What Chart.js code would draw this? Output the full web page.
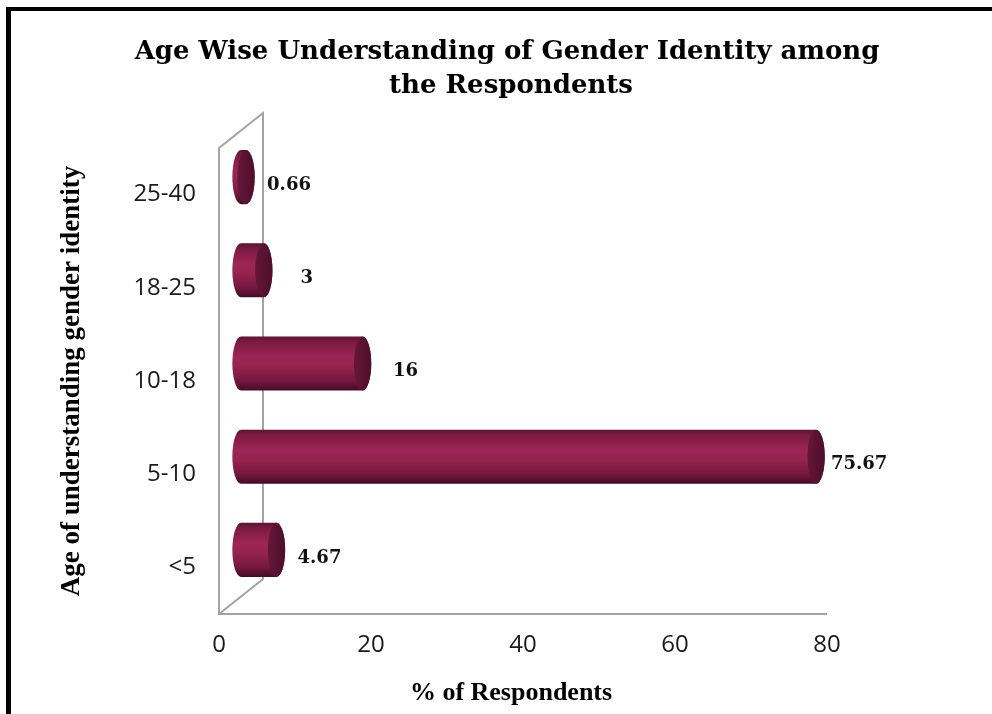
<!DOCTYPE html>
<html>
<head>
<meta charset="utf-8">
<script src="https://cdn.jsdelivr.net/npm/chart.js@4.4.1/dist/chart.umd.min.js"></script>
<style>
  html, body { margin: 0; padding: 0; background: #fff; }
  #chart { display: block; }
</style>
</head>
<body>
<canvas id="chart" width="992" height="714"></canvas>
<script>
// Age groups (bottom to top) and the share of respondents in each
const ageGroups = ['<5', '5-10', '10-18', '18-25', '25-40'];
const respondentShare = [4.67, 75.67, 16, 3, 0.66];
const shareTicks = [0, 20, 40, 60, 80];

const titleLines = ['Age Wise Understanding of Gender Identity among', 'the Respondents'];
const xAxisTitle = '% of Respondents';
const yAxisTitle = 'Age of understanding gender identity';

// Offset of the back plane of the 3-D box (pixels)
const DEPTH = { dx: 44, dy: -35 };

// Outer frame, headings, side wall / floor edge and cylinder bars
const cylinderBars = {
  id: 'cylinderBars',
  beforeDraw(chart) {
    const ctx = chart.ctx;
    ctx.save();
    ctx.fillStyle = '#000';
    ctx.fillRect(6, 7, chart.width - 6, 4);
    ctx.fillRect(6, 7, 5, chart.height - 7);
    ctx.textAlign = 'center';
    ctx.textBaseline = 'alphabetic';
    ctx.font = 'bold 26px "DejaVu Serif"';
    ctx.fillText(titleLines[0], 507, 59);
    ctx.fillText(titleLines[1], 511, 93);
    ctx.textBaseline = 'middle';
    ctx.font = 'bold 26px "Liberation Serif"';
    ctx.fillText(xAxisTitle, 511, 693);
    ctx.restore();
  },
  beforeDatasetsDraw(chart) {
    const { ctx, chartArea: { top, bottom }, scales: { x } } = chart;
    const x0 = x.getPixelForValue(x.min);
    const x1 = x.getPixelForValue(x.max);
    ctx.save();
    ctx.strokeStyle = '#a3a3a3';
    ctx.lineWidth = 2;
    ctx.beginPath();
    ctx.moveTo(x1, bottom);
    ctx.lineTo(x0, bottom);
    ctx.lineTo(x0, top);
    ctx.lineTo(x0 + DEPTH.dx, top + DEPTH.dy);
    ctx.lineTo(x0 + DEPTH.dx, bottom + DEPTH.dy);
    ctx.lineTo(x0, bottom);
    ctx.stroke();
    ctx.restore();
  },
  afterDatasetsDraw(chart) {
    const ctx = chart.ctx;
    const meta = chart.getDatasetMeta(0);
    const values = chart.data.datasets[0].data;
    meta.data.forEach((bar, i) => {
      const p = bar.getProps(['x', 'y', 'base', 'height'], true);
      const cy = p.y + DEPTH.dy / 2;
      const left = p.base + DEPTH.dx / 2;
      const right = p.x + DEPTH.dx / 2;
      const ry = p.height / 2;
      const rx = ry * 0.32;

      ctx.save();
      // cylinder body
      const g = ctx.createLinearGradient(0, cy - ry, 0, cy + ry);
      g.addColorStop(0, '#5c1231');
      g.addColorStop(0.1, '#7c1a44');
      g.addColorStop(0.38, '#9c2656');
      g.addColorStop(0.55, '#96234f');
      g.addColorStop(0.82, '#741840');
      g.addColorStop(1, '#470a24');
      ctx.fillStyle = g;
      ctx.beginPath();
      ctx.moveTo(left, cy - ry);
      ctx.lineTo(right, cy - ry);
      ctx.ellipse(right, cy, rx, ry, 0, -Math.PI / 2, Math.PI / 2, false);
      ctx.lineTo(left, cy + ry);
      ctx.ellipse(left, cy, rx, ry, 0, Math.PI / 2, Math.PI * 1.5, false);
      ctx.closePath();
      ctx.fill();

      // end cap
      const c = ctx.createLinearGradient(right - rx, 0, right + rx, 0);
      c.addColorStop(0, '#661739');
      c.addColorStop(1, '#4e0e2b');
      ctx.fillStyle = c;
      ctx.beginPath();
      ctx.ellipse(right, cy, rx, ry, 0, 0, Math.PI * 2);
      ctx.fill();

      // value label
      ctx.fillStyle = '#111';
      ctx.font = 'bold 18px "DejaVu Serif"';
      ctx.textAlign = 'center';
      ctx.textBaseline = 'middle';
      ctx.fillText(String(values[i]), right + 43, cy + 8);
      ctx.restore();
    });
  }
};

new Chart(document.getElementById('chart'), {
  type: 'bar',
  data: {
    labels: ageGroups,
    datasets: [{
      data: respondentShare,
      backgroundColor: 'rgba(0,0,0,0)',
      borderWidth: 0,
      barPercentage: 0.58,
      categoryPercentage: 1
    }]
  },
  options: {
    indexAxis: 'y',
    responsive: false,
    animation: false,
    layout: { padding: { top: 148, right: 165, left: 0, bottom: 0 } },
    plugins: {
      legend: { display: false },
      tooltip: { enabled: false },
      title: { display: false }
    },
    scales: {
      x: {
        min: shareTicks[0],
        max: shareTicks[shareTicks.length - 1],
        ticks: {
          stepSize: shareTicks[1] - shareTicks[0],
          color: '#1a1a1a',
          font: { family: 'Open Sans', size: 24 },
          padding: 17
        },
        grid: { display: false, drawTicks: false },
        border: { display: false },
        title: { display: false },
        afterFit(scale) { scale.height = 100; }
      },
      y: {
        reverse: true,
        ticks: {
          color: '#1a1a1a',
          font: { family: 'Open Sans', size: 24 },
          padding: 23
        },
        grid: { display: false, drawTicks: false },
        border: { display: false },
        title: {
          display: true,
          text: yAxisTitle,
          color: '#000',
          font: { family: 'Liberation Serif', weight: 'bold', size: 27 },
          padding: { top: 56, bottom: 0 }
        },
        afterFit(scale) { scale.width = 219; }
      }
    }
  },
  plugins: [cylinderBars]
});
</script>
</body>
</html>
